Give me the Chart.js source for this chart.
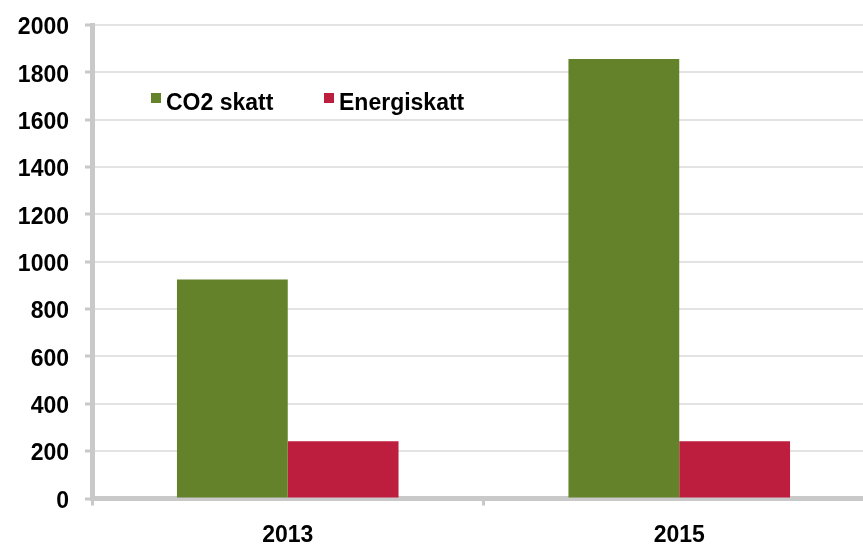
<!DOCTYPE html>
<html>
<head>
<meta charset="utf-8">
<script src="https://cdn.jsdelivr.net/npm/chart.js@4"></script>
<style>
    html, body { margin: 0; padding: 0; background: #fff; overflow: hidden; }
</style>
</head>
<body>
<canvas id="tax-chart" width="880" height="546"></canvas>
<script>
const years = ['2013', '2015'];
const co2Tax = [925, 1856];
const energyTax = [242, 242];
const yTicks = [0, 200, 400, 600, 800, 1000, 1200, 1400, 1600, 1800, 2000];

const fontFamily = '"Liberation Sans", Arial, Helvetica, sans-serif';
const axisGray = '#c9c9c9';

// legend drawn inside the plot, like the original
const innerLegend = {
    id: 'innerLegend',
    afterDraw(chart, args, opts) {
        const ctx = chart.ctx;
        ctx.save();
        ctx.font = 'bold 23px ' + fontFamily;
        ctx.textBaseline = 'alphabetic';
        chart.data.datasets.forEach(function (ds, i) {
            const x = opts.x[i];
            ctx.fillStyle = ds.backgroundColor;
            ctx.fillRect(x, opts.y - 17, 10, 10);
            ctx.fillStyle = '#000';
            ctx.fillText(ds.label, x + 15, opts.y);
        });
        ctx.restore();
    }
};

new Chart(document.getElementById('tax-chart'), {
    type: 'bar',
    data: {
        labels: years,
        datasets: [{
            label: 'CO2 skatt',
            data: co2Tax,
            backgroundColor: '#63822a',
            categoryPercentage: 0.566,
            barPercentage: 1.0
        }, {
            label: 'Energiskatt',
            data: energyTax,
            backgroundColor: '#bd1e3e',
            categoryPercentage: 0.566,
            barPercentage: 1.0
        }]
    },
    options: {
        responsive: false,
        animation: false,
        layout: { padding: { top: 25, right: 5, left: 0, bottom: 0 } },
        plugins: {
            legend: { display: false },
            tooltip: { enabled: false },
            innerLegend: { x: [151, 324], y: 110 }
        },
        scales: {
            x: {
                afterFit: function (s) { s.height = 47.5; },
                grid: {
                    offset: true,
                    drawOnChartArea: false,
                    tickLength: 7,
                    tickColor: axisGray,
                    tickWidth: 3
                },
                border: { display: true, color: axisGray, width: 5 },
                ticks: {
                    color: '#000',
                    padding: 16,
                    font: { family: fontFamily, size: 23, weight: 'bold' }
                }
            },
            y: {
                min: 0,
                max: 2000,
                afterFit: function (s) {
                    s.width = 92;
                    s.paddingTop = 0;
                    s.paddingBottom = 0;
                },
                afterBuildTicks: function (s) {
                    s.ticks = yTicks.map(function (v) { return { value: v }; });
                },
                grid: {
                    color: '#e3e3e3',
                    lineWidth: 2,
                    tickLength: 7,
                    tickColor: axisGray,
                    tickWidth: 3
                },
                border: { display: true, color: axisGray, width: 5 },
                ticks: {
                    color: '#000',
                    padding: 16,
                    labelOffset: 3,
                    font: { family: fontFamily, size: 23, weight: 'bold' },
                    callback: function (v) { return String(v); }
                }
            }
        }
    },
    plugins: [innerLegend]
});
</script>
</body>
</html>
